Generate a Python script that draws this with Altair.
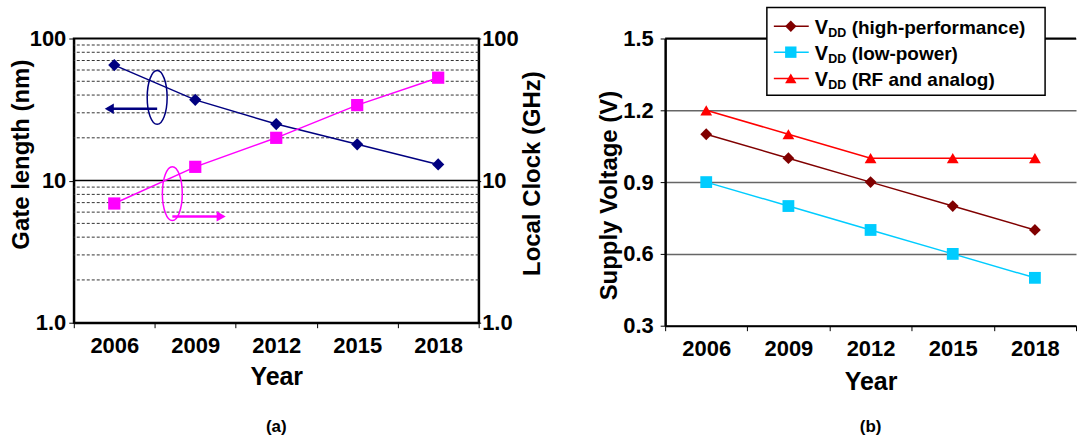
import altair as alt
import pandas as pd

# ---------------- data ----------------
years = ["2006", "2009", "2012", "2015", "2018"]
gate_length_nm = [65, 37, 25, 18, 13]
local_clock_ghz = [6.9, 12.5, 20, 34, 53]

vdd_high_perf = [1.1, 1.0, 0.9, 0.8, 0.7]
vdd_low_power = [0.9, 0.8, 0.7, 0.6, 0.5]
vdd_rf_analog = [1.2, 1.1, 1.0, 1.0, 1.0]

log_ticks = [1, 10, 100]
log_minor_grid = [2, 3, 4, 5, 6, 7, 8, 9, 20, 30, 40, 50, 60, 70, 80, 90]
log_major_grid = [10]
volt_ticks = [0.3, 0.6, 0.9, 1.2, 1.5]

series_keys = ["hp", "lp", "rf"]
legend_suffix = ["(high-performance)", "(low-power)", "(RF and analog)"]
series_colors = ["#800000", "#00CCFF", "#FF0000"]
series_shapes = ["diamond", "square", "triangle-up"]

# annotation anchors (data units) for the ellipse/arrow call-outs
ann_gate_year, ann_gate_ellipse_val, ann_gate_arrow_val = "2006", 38.5, 32
ann_clock_year, ann_clock_ellipse_val, ann_clock_arrow_val = "2009", 8.1, 5.6

FONT = "Liberation Sans"
NAVY = "#000080"
MAGENTA = "#FF00FF"
LABEL_SIZE = 22
TITLE_SIZE = 24

left_df = pd.DataFrame({"year": years, "gate": gate_length_nm, "clock": local_clock_ghz})
right_df = pd.DataFrame({
    "year": years * 3,
    "series": [k for k in series_keys for _ in years],
    "v": vdd_high_perf + vdd_low_power + vdd_rf_analog,
})

# ---------------- left panel ----------------
LW, LH = 406, 285


def make_x(title_pad):
    ax = alt.Axis(
        title="Year", labelAngle=0, tickBand="extent", tickSize=5, tickColor="black",
        domainColor="black", domainWidth=2, labelFontSize=LABEL_SIZE, labelFontWeight="bold",
        labelPadding=8, titleFontSize=25, titleFontWeight="bold", titlePadding=title_pad, grid=False,
    )
    return alt.X("year:N", sort=years, scale=alt.Scale(paddingInner=0, paddingOuter=0), axis=ax)


x_enc = make_x(8)
x_enc_r = make_x(10)

log_scale = alt.Scale(type="log", domain=[1, 100], nice=False)
label_expr = "datum.value < 5 ? '1.0' : format(datum.value, 'd')"

gate_axis = alt.Axis(
    values=log_ticks, labelExpr=label_expr, grid=False, tickSize=5, tickColor="black",
    domainColor="black", domainWidth=2, labelFontSize=LABEL_SIZE, labelFontWeight="bold",
    labelPadding=3, title="Gate length (nm)", titleFontSize=TITLE_SIZE, titleFontWeight="bold",
    titleX=-52, titleY=116, titleBaseline="middle",
)
clock_axis = alt.Axis(
    values=log_ticks, labelExpr=label_expr, grid=False, tickSize=2, tickColor="black",
    domainColor="black", domainWidth=2, labelFontSize=LABEL_SIZE, labelFontWeight="bold",
    labelPadding=1, title="Local Clock (GHz)", titleFontSize=TITLE_SIZE, titleFontWeight="bold",
    titleX=54, titleY=135, titleBaseline="middle", titleAngle=270, orient="right",
)


def gate_y(field):
    return alt.Y(f"{field}:Q", scale=log_scale, axis=gate_axis)


def clock_y(field):
    return alt.Y(f"{field}:Q", scale=log_scale, axis=clock_axis)


minor_grid = alt.Chart(pd.DataFrame({"g": log_minor_grid})).mark_rule(
    color="#333333", strokeWidth=1, strokeDash=[3, 2]
).encode(y=gate_y("g"))
major_grid = alt.Chart(pd.DataFrame({"g": log_major_grid})).mark_rule(
    color="black", strokeWidth=1.5
).encode(y=gate_y("g"))

# invisible spacer so both panels share the same top bound
spacer = alt.Chart(pd.DataFrame({"g": [10]})).mark_rule(strokeOpacity=0).encode(
    x=alt.value(0), x2=alt.value(1), y=alt.value(-34), y2=alt.value(-33)
)

gate_line = alt.Chart(left_df).mark_line(color=NAVY, strokeWidth=1.5).encode(x=x_enc, y=gate_y("gate"))
gate_pts = alt.Chart(left_df).mark_point(
    shape="diamond", filled=True, color=NAVY, size=150, opacity=1
).encode(x=x_enc, y=gate_y("gate"))

ELLIPSE = "M0,-1A0.37,1,0,1,1,0,1A0.37,1,0,1,1,0,-1Z"

ann_gate_df = pd.DataFrame({"year": [ann_gate_year], "e": [ann_gate_ellipse_val], "a": [ann_gate_arrow_val]})
gate_ellipse = alt.Chart(ann_gate_df).mark_point(
    shape=ELLIPSE, size=2916, filled=False, stroke=NAVY, strokeWidth=1.5, opacity=1, xOffset=43
).encode(x=x_enc, y=gate_y("e"))
gate_arrow = alt.Chart(ann_gate_df).mark_rule(
    color=NAVY, strokeWidth=2.5, xOffset=43, x2Offset=-5
).encode(x=x_enc, x2="year", y=gate_y("a"))
gate_head = alt.Chart(ann_gate_df).mark_point(
    shape="triangle-left", filled=True, color=NAVY, size=110, opacity=1, xOffset=-5
).encode(x=x_enc, y=gate_y("a"))

left_a = alt.layer(minor_grid, major_grid, spacer, gate_line, gate_pts, gate_ellipse, gate_arrow, gate_head)

clock_line = alt.Chart(left_df).mark_line(color=MAGENTA, strokeWidth=1.5).encode(x=x_enc, y=clock_y("clock"))
clock_pts = alt.Chart(left_df).mark_square(color=MAGENTA, size=150, opacity=1).encode(x=x_enc, y=clock_y("clock"))

ann_clock_df = pd.DataFrame({"year": [ann_clock_year], "e": [ann_clock_ellipse_val], "a": [ann_clock_arrow_val]})
clock_ellipse = alt.Chart(ann_clock_df).mark_point(
    shape=ELLIPSE, size=2916, filled=False, stroke=MAGENTA, strokeWidth=1.5, opacity=1, xOffset=-23
).encode(x=x_enc, y=clock_y("e"))
clock_arrow = alt.Chart(ann_clock_df).mark_rule(
    color=MAGENTA, strokeWidth=2.5, xOffset=-23, x2Offset=26
).encode(x=x_enc, x2="year", y=clock_y("a"))
clock_head = alt.Chart(ann_clock_df).mark_point(
    shape="triangle-right", filled=True, color=MAGENTA, size=110, opacity=1, xOffset=26
).encode(x=x_enc, y=clock_y("a"))

left_b = alt.layer(clock_line, clock_pts, clock_ellipse, clock_arrow, clock_head)

left = alt.layer(left_a, left_b).resolve_scale(y="independent").properties(
    width=LW, height=LH,
    view=alt.ViewConfig(stroke="black", strokeWidth=2),
    title=alt.TitleParams("(a)", orient="bottom", fontSize=17, fontWeight="bold",
                          font=FONT, offset=30, frame="group", anchor="middle"),
)

# ---------------- right panel ----------------
RW, RH = 412, 288

v_axis = alt.Axis(
    values=volt_ticks, format=".1f", grid=True, gridColor="#666666", gridWidth=1.5,
    tickSize=5, tickColor="black", domainColor="black", domainWidth=2.5,
    labelFontSize=LABEL_SIZE, labelFontWeight="bold", labelPadding=7,
    title="Supply Voltage (V)", titleFontSize=TITLE_SIZE, titleFontWeight="bold",
    titleX=-56, titleY=157, titleBaseline="middle",
)
v_scale = alt.Scale(domain=[0.3, 1.5], nice=False, zero=False)
color_scale = alt.Scale(domain=series_keys, range=series_colors)
shape_scale = alt.Scale(domain=series_keys, range=series_shapes)

top_border = alt.Chart(pd.DataFrame({"t": [volt_ticks[-1]]})).mark_rule(
    color="black", strokeWidth=2
).encode(y=alt.Y("t:Q", scale=v_scale, axis=v_axis))

v_lines = alt.Chart(right_df).mark_line(strokeWidth=1.5).encode(
    x=x_enc_r, y=alt.Y("v:Q", scale=v_scale, axis=v_axis),
    color=alt.Color("series:N", scale=color_scale, legend=None),
    detail="series:N",
)
v_pts = alt.Chart(right_df).mark_point(filled=True, size=140, opacity=1).encode(
    x=x_enc_r, y=alt.Y("v:Q", scale=v_scale, axis=v_axis),
    color=alt.Color("series:N", scale=color_scale, legend=None),
    shape=alt.Shape("series:N", scale=shape_scale, legend=None),
)

# manual legend (box + rows with subscripted V_DD)
LEG_X0, LEG_X1, LEG_Y0, LEG_Y1 = 102, 381, -31, 57
ROW_Y = [-12.3, 13.7, 40]
one = pd.DataFrame({"k": [0]})
legend_layers = [
    alt.Chart(one).mark_rect(fill="white", stroke="black", strokeWidth=1.5).encode(
        x=alt.value(LEG_X0), x2=alt.value(LEG_X1), y=alt.value(LEG_Y0), y2=alt.value(LEG_Y1)
    )
]
for i, key in enumerate(series_keys):
    ry = ROW_Y[i]
    row = pd.DataFrame({"suffix": [legend_suffix[i]]})
    legend_layers += [
        alt.Chart(row).mark_rule(color=series_colors[i], strokeWidth=1.5).encode(
            x=alt.value(109), x2=alt.value(144), y=alt.value(ry)
        ),
        alt.Chart(row).mark_point(shape=series_shapes[i], filled=True, color=series_colors[i],
                                  size=130, opacity=1).encode(x=alt.value(126), y=alt.value(ry)),
        alt.Chart(row).mark_text(text="V", align="left", baseline="alphabetic", font=FONT,
                                 fontSize=20, fontWeight="bold", color="black").encode(
            x=alt.value(150), y=alt.value(ry + 7.5)),
        alt.Chart(row).mark_text(text="DD", align="left", baseline="alphabetic", font=FONT,
                                 fontSize=12.5, fontWeight="bold", color="black").encode(
            x=alt.value(163.5), y=alt.value(ry + 10.5)),
        alt.Chart(row).mark_text(align="left", baseline="alphabetic", font=FONT,
                                 fontSize=19, fontWeight="bold", color="black").encode(
            x=alt.value(187), y=alt.value(ry + 7.5), text="suffix:N"),
    ]

right = alt.layer(top_border, v_lines, v_pts, *legend_layers).properties(
    width=RW, height=RH,
    view=alt.ViewConfig(stroke=None),
    title=alt.TitleParams("(b)", orient="bottom", fontSize=17, fontWeight="bold",
                          font=FONT, offset=25, frame="group", anchor="middle"),
)

chart = alt.hconcat(left, right, spacing=52).properties(
    padding={"left": 8, "top": 3, "right": 0, "bottom": 0}
).configure(
    font=FONT,
).configure_axis(
    labelFont=FONT, titleFont=FONT, labelColor="black", titleColor="black"
)

chart.save("out.html", embed_options={"renderer": "svg", "actions": False})
